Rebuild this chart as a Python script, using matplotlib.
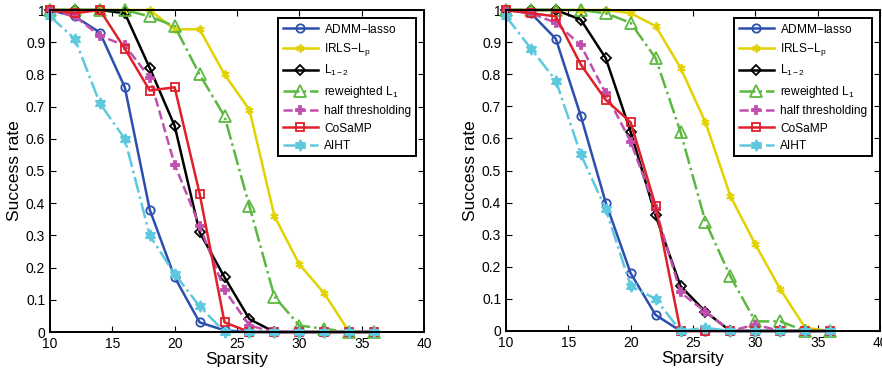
import numpy as np
import matplotlib.pyplot as plt

plt.rcParams['font.family'] = ['Liberation Sans', 'DejaVu Sans']
plt.rcParams['mathtext.fontset'] = 'custom'
plt.rcParams['mathtext.rm'] = 'Liberation Sans'
plt.rcParams['mathtext.it'] = 'Liberation Sans:italic'

sparsity = [10, 12, 14, 16, 18, 20, 22, 24, 26, 28, 30, 32, 34, 36]
labels = ['ADMM$-$lasso', 'IRLS$-$L$_\\mathregular{p}$', 'L$_\\mathregular{1-2}$',
          'reweighted L$_\\mathregular{1}$', 'half thresholding', 'CoSaMP', 'AIHT']

# left panel
admm_a = [1.0, 0.98, 0.93, 0.76, 0.38, 0.17, 0.03, 0.005, 0, 0, 0, 0, 0, 0]
irls_a = [1.0, 1.0, 1.0, 1.0, 1.0, 0.94, 0.94, 0.80, 0.69, 0.36, 0.21, 0.12, 0, 0]
l12_a = [1.0, 1.0, 1.0, 0.99, 0.82, 0.64, 0.31, 0.17, 0.04, 0, 0, 0, 0, 0]
rew_a = [1.0, 1.0, 1.0, 1.0, 0.98, 0.95, 0.80, 0.67, 0.39, 0.11, 0.02, 0.01, 0, 0]
half_a = [1.0, 0.98, 0.92, 0.89, 0.79, 0.52, 0.33, 0.13, 0.02, 0, 0, 0, 0, 0]
cosamp_a = [1.0, 0.99, 1.0, 0.88, 0.75, 0.76, 0.43, 0.03, 0, 0, 0, 0, 0, 0]
aiht_a = [0.98, 0.91, 0.71, 0.60, 0.30, 0.18, 0.08, 0, 0, 0, 0, 0, 0, 0]

# right panel
admm_b = [1.0, 0.99, 0.91, 0.67, 0.40, 0.18, 0.05, 0, 0, 0, 0, 0, 0, 0]
irls_b = [1.0, 1.0, 1.0, 1.0, 1.0, 0.99, 0.95, 0.82, 0.65, 0.42, 0.27, 0.13, 0.01, 0]
l12_b = [1.0, 1.0, 1.0, 0.97, 0.85, 0.62, 0.36, 0.14, 0.06, 0, 0, 0, 0, 0]
rew_b = [1.0, 1.0, 1.0, 1.0, 0.99, 0.96, 0.85, 0.62, 0.34, 0.17, 0.03, 0.03, 0, 0]
half_b = [1.0, 0.99, 0.96, 0.89, 0.74, 0.59, 0.38, 0.12, 0.06, 0, 0.02, 0, 0, 0]
cosamp_b = [1.0, 0.99, 0.98, 0.83, 0.72, 0.65, 0.39, 0, 0, 0, 0, 0, 0, 0]
aiht_b = [0.98, 0.88, 0.78, 0.55, 0.38, 0.14, 0.10, 0, 0.01, 0, 0, 0, 0, 0]

styles = [
    dict(color='#2b4fae', ls='-', marker='o', mfc='none', ms=6),
    dict(color='#e2d200', ls='-', marker=(6, 2, 0), ms=6),
    dict(color='black', ls='-', marker='D', mfc='none', ms=5),
    dict(color='#5cb840', ls='-.', marker='^', mfc='none', ms=8),
    dict(color='#c24fae', ls='--', marker='P', ms=6),
    dict(color='#e0202a', ls='-', marker='s', mfc='none', ms=6),
    dict(color='#5ec9de', ls='-.', marker=(6, 1, 0), ms=8),
]

fig = plt.figure(figsize=(8.82, 3.72), dpi=100)
ax1 = fig.add_axes([50 / 882, 40 / 372, 374 / 882, 322 / 372])
ax2 = fig.add_axes([506 / 882, 41 / 372, 374 / 882, 321 / 372])

for ax, series in [(ax1, [admm_a, irls_a, l12_a, rew_a, half_a, cosamp_a, aiht_a]),
                   (ax2, [admm_b, irls_b, l12_b, rew_b, half_b, cosamp_b, aiht_b])]:
    for y, lab, st in zip(series, labels, styles):
        ax.plot(sparsity, y, label=lab, lw=1.8, mew=1.3, clip_on=False, **st)
    ax.set_xlim(10, 40)
    ax.set_ylim(0, 1)
    ax.set_xticks([10, 15, 20, 25, 30, 35, 40])
    ax.set_yticks(np.arange(0, 1.01, 0.1))
    ax.set_yticklabels(['0', '0.1', '0.2', '0.3', '0.4', '0.5', '0.6', '0.7', '0.8', '0.9', '1'])
    ax.tick_params(direction='in', top=True, right=True, labelsize=10, length=4)
    ax.set_xlabel('Sparsity', fontsize=12.5, labelpad=1)
    ax.set_ylabel('Success rate', fontsize=12.5, labelpad=3)
    for sp in ax.spines.values():
        sp.set_linewidth(1.4)
    leg = ax.legend(loc='upper right', fontsize=8.6, fancybox=False, framealpha=1,
                    edgecolor='black', handlelength=3.0, borderaxespad=0.7,
                    labelspacing=0.45, borderpad=0.35, handletextpad=0.5)
    leg.get_frame().set_linewidth(1.4)

fig.savefig('out.png', dpi=100)
